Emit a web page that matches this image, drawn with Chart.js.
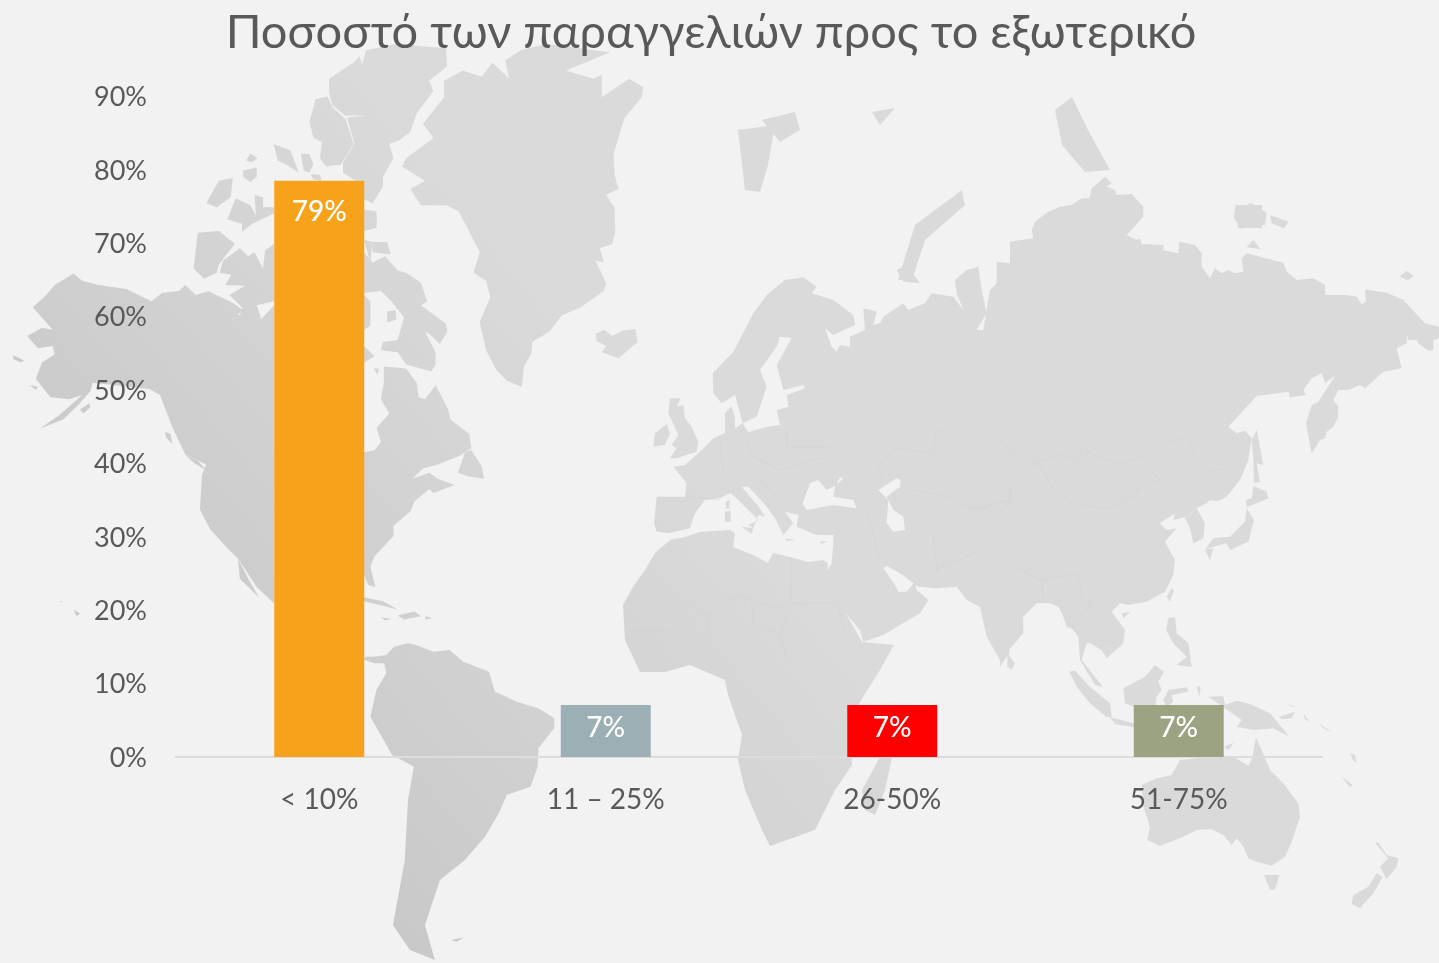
<!DOCTYPE html>
<html><head><meta charset="utf-8">
<style>
html,body{margin:0;padding:0;background:#f2f2f2;width:1439px;height:963px;overflow:hidden}
#map{position:absolute;left:0;top:0}
#wrap{position:absolute;left:0;top:0;width:1439px;height:963px}
</style>
<script src="https://cdn.jsdelivr.net/npm/chart.js@4"></script>
</head><body>
<svg id="map" width="1439" height="963" viewBox="0 0 1439 963">
<defs>
<linearGradient id="g" gradientUnits="userSpaceOnUse" x1="100" y1="600" x2="520" y2="250"><stop offset="0" stop-color="#c8c8c8"/><stop offset="0.35" stop-color="#cfcfcf"/><stop offset="1" stop-color="#dadada"/></linearGradient>
<mask id="m" maskUnits="userSpaceOnUse" x="0" y="0" width="1439" height="963">
<g fill="#fff">
<g transform="translate(0 40) scale(.42085 .40816)">
<path d="M1055 100L1100 75 1145 90 1170 55 1210 95 1200 50 1240 24 1300 10 1450 30 1345 75 1410 95 1430 85 1430 140 1495 95 1528 115 1525 140 1485 190 1478 210 1458 280 1460 330 1470 365 1440 380 1460 410 1462 470 1455 500 1425 510 1435 545 1415 540 1440 595 1435 615 1380 655 1335 675 1305 715 1265 740 1262 770 1245 800 1240 850 1205 835 1180 810 1155 760 1140 690 1165 630 1155 590 1125 570 1140 520 1110 460 1090 420 1060 405 1000 405 975 365 1010 345 955 310 965 290 1030 240 1005 205 1055 140z"/>
<path d="M782 95L840 55 855 40 860 60 870 25 940 10 1060 20 1062 65 1020 100 1030 125 990 180 975 225 950 245 925 255 935 290 910 335 910 360 885 400 865 390 865 345 845 345 815 325 815 300 842 255 825 190 870 185 820 185 790 160 782 130z"/>
<path d="M735 200L750 145 778 138 790 165 822 195 840 255 810 305 775 310 760 290 765 250 745 240z"/>
<path d="M650 255L690 270 710 325 680 305 660 295zM715 278L735 280 745 305 735 325 722 320zM738 328L760 330 765 345 745 342zM595 278L612 290 598 300 585 295zM578 320L610 312 610 335 595 348 578 335z"/>
<path d="M520 345L553 338 548 385 515 410 490 400zM540 440L560 388 595 405 608 430 605 380 625 385 625 410 651 410 651 425 600 450 575 470 575 450zM470 472L520 468 558 500 520 550 515 570 485 585 460 560z"/>
<path d="M522 570L530 540 570 510 590 530 605 520 625 560 630 515 651 500 651 640 610 650 620 680 570 672 575 655 545 625 582 602 535 600 550 575z"/>
<path d="M865 415L895 420 895 460 865 468zM865 490L885 495 880 545zM885 495L920 495 928 525 885 520z"/>
<path d="M865 520L885 545 915 530 945 565 965 570 1000 595 1015 640 1000 650 1060 695 1063 715 1045 745 1020 720 1010 715 1035 765 1035 795 1025 812 965 795 945 765 905 760 910 740 945 735 960 680 930 640 905 615 865 620z"/>
<path d="M920 665L940 662 942 685 920 692zM865 625L880 640 880 700 865 710zM865 750L890 775 865 790zM888 805L900 805 897 820z"/>
<path d="M175 572L195 590 235 600 300 610 360 640 385 620 425 615 440 600 465 625 495 615 555 645 575 660 565 675 610 665 620 685 651 650 651 1380 610 1340 565 1270 545 1250 500 1200 475 1150 480 1065 490 1040 440 1015 410 950 380 870 355 855 220 840 215 860 190 890 150 930 95 952 140 920 195 870 165 880 120 875 85 830 100 790 130 770 125 750 90 755 65 725 100 705 125 710 78 655 110 625 130 600z"/>
<path d="M565 1270L590 1320 615 1365 570 1320z"/>
<path d="M912 800L965 805 990 840 995 875 1010 880 1035 845 1065 905 1070 930 1115 965 1120 1000 1090 1020 1040 1040 1005 1050 980 1075 1020 1060 1040 1075 1080 1090 1030 1110 1020 1100 985 1130 975 1155 935 1190 935 1215 890 1265 880 1290 892 1340 875 1335 865 1310 865 1010 890 1005 905 985 895 950 925 915 905 880 912 840z"/>
<path d="M1105 1010L1120 1005 1145 1045 1150 1075 1115 1070 1088 1060zM865 1365L910 1375 945 1395 905 1385 865 1375zM945 1410L985 1400 1000 1412 960 1420zM1010 1412L1028 1416 1012 1420zM905 1415L930 1418 915 1422zM175 1395L190 1405 182 1412zM143 1373L148 1376 145 1379z"/>
<path d="M30 772L58 785 50 790 32 782zM70 845L90 850 85 857zM190 905L212 890 215 900 198 915zM392 960L405 965 410 990 395 975zM438 1015L470 1030 490 1055 460 1035z"/>
<path d="M1415 720L1435 710 1455 725 1480 712 1510 708 1515 740 1470 780 1430 765 1440 750 1418 738z"/>
</g>
<g transform="translate(60 640) scale(.3954 .3333)">
<path d="M770 50L795 50 825 45 845 20 880 10 900 15 945 35 985 30 1020 65 1085 95 1100 155 1155 185 1210 205 1250 235 1250 265 1210 325 1208 380 1190 440 1130 465 1110 520 1075 590 1024 660 961 720 923 855 948 960 885 930 842 855 872 660 880 480 895 380 840 345 785 230 800 150 825 100 820 70 795 70 770 60z"/>
<path d="M990 900L1022 892 1002 906z"/>
</g>
<path d="M623 605L633 587 645 570 655 553 670 540 685 537 700 532 730 530 735 533 733 547 753 555 768 563 773 553 790 557 808 562 823 560 828 563 827 575 840 603 862 642 894 645 880 670 855 710 850 720 852 765 835 790 815 830 770 846 762 830 745 790 738 760 742 735 728 695 725 680 690 665 665 672 640 672 625 640z"/>
<path d="M880 757L892 757 885 790 875 815 865 810 862 790z"/>
<path d="M738 130L775 125 768 165 760 192 745 190zM762 120L795 112 800 130 780 142zM872 112L895 108 880 125zM1055 110L1072 97 1088 130 1110 170 1085 172 1062 145zM898 280L915 225 962 190 965 205 925 240 912 280zM1235 205L1262 205 1262 228 1238 228z"/>
<g transform="translate(620 270) scale(.33333)">
<path d="M305 400L280 370 278 310 340 245 400 130 440 75 495 30 550 22 590 50 575 70 640 90 700 135 705 165 640 195 615 175 635 230 650 245 660 225 690 230 690 200 735 180 730 115 770 125 760 165 780 160 790 140 850 100 865 120 915 100 935 70 1000 80 1030 120 1010 70 1005 30 1040 0 1075 -10 1085 60 1100 130 1070 180 1090 180 1110 60 1200 -30 1210 1090 1175 1130 1140 1170 1100 1100 1080 1010 1040 990 1010 950 950 955 895 950 840 910 800 888 790 895 825 945 835 965 860 965 885 935 890 960 925 990 900 1030 840 1065 790 1095 730 1115 720 1080 660 1010 615 915 635 880 640 820 640 795 590 795 530 770 535 735 495 725 520 760 490 795 465 745 440 710 385 650 365 650 420 715 435 740 415 735 400 775 385 765 415 750 345 680 330 670 300 685 255 690 225 730 210 775 145 790 110 785 102 760 110 680 195 680 200 640 160 590 195 585 235 550 280 505 315 490 315 430 335 408 345 445 345 475 368 460 345 375z"/>
<path d="M318 695L330 690 328 715 318 715zM315 725L332 722 332 755 315 755zM365 770L400 775 395 792zM495 805L525 810 500 812zM600 815L622 812 605 822z"/>
<path d="M150 385L182 385 170 410 190 405 195 445 215 470 235 515 230 545 170 565 150 565 170 535 155 525 175 495 145 430zM100 530L105 490 140 462 150 490 135 525z"/>
<path d="M830 0L860 -15 900 40 850 35z"/>
</g>
<g transform="translate(1000 170) scale(.33333)">
<path d="M-10 275L30 280 30 215 100 205 95 180 105 155 145 125 180 110 215 105 245 85 268 85 275 55 315 20 335 40 320 50 345 60 350 75 395 72 430 110 430 140 380 195 410 210 420 205 425 222 490 225 490 240 535 250 538 215 585 225 605 250 605 290 630 325 645 295 665 310 685 300 705 310 730 305 725 265 740 250 850 278 860 305 890 330 940 325 975 345 975 375 1040 375 1070 380 1085 403 1098 395 1095 358 1160 368 1210 390 1275 460 1317 470 1317 505 1300 510 1300 540 1285 542 1255 520 1250 510 1225 510 1220 495 1220 520 1190 535 1205 595 1150 605 1095 655 1080 645 1045 660 1015 660 1000 690 1015 710 1013 745 1000 770 980 785 975 805 960 810 935 850 918 760 935 705 955 695 1020 595 1015 610 975 640 965 610 935 625 910 660 918 675 870 682 865 665 770 678 685 770 710 790 735 782 755 805 745 870 720 930 680 980 655 993 630 990 620 1000 590 1015 560 1040 520 1050 525 1030 480 1060 500 1080 530 1075 495 1115 525 1170 520 1215 495 1265 440 1295 385 1305 360 1300 335 1325 375 1380 370 1420 320 1465 305 1440 270 1420 260 1420 245 1470 309 1551 285 1545 240 1470 235 1400 215 1375 200 1370 190 1340 175 1310 150 1300 110 1300 60 1350 30 1375 28 1450 0 1490 -10 1100z"/>
<path d="M555 1045L590 1015 615 1060 610 1105 580 1120 570 1075z"/>
<path d="M770 780L790 885 770 880 780 935 762 940 760 870 755 810zM760 948L800 965 805 985 770 1000 740 1012 738 990 755 985zM740 1015L762 1050 745 1115 690 1140 680 1120 640 1130 615 1140 640 1105 690 1100 735 1055zM615 1140L640 1135 630 1170z"/>
<path d="M515 1255L522 1260 510 1295 500 1280zM365 1330L392 1325 370 1345zM505 1345L525 1340 530 1390 565 1420 575 1490 530 1485 560 1460 520 1420 498 1380zM22 1450L45 1480 35 1500 22 1490z"/>
<path d="M705 115L755 100 800 128 795 165 745 165 725 178 702 145zM810 135L865 155 852 175 815 160zM740 232L760 210 782 238zM1198 320L1220 303 1242 318 1225 330z"/>
</g>
<g transform="translate(1040 600) scale(.33333)">
<path d="M88 215L105 212 150 260 210 310 215 350 200 352 150 310 110 260zM210 352L282 370 282 382 225 372zM250 265L315 230 345 195 372 215 355 245 365 270 350 290 345 330 282 320 255 310zM370 300L385 270 440 262 445 275 395 285 400 305 380 320z"/>
<path d="M505 290L550 288 555 315 590 302 630 312 690 340 715 370 748 410 700 385 640 390 590 380 605 360 570 335zM470 258L482 262 478 290zM552 440L582 428 565 450zM718 350L765 335 755 355 725 358zM745 312L772 325 750 318zM790 340L808 365 795 358zM835 370L875 395 850 385zM932 460L945 465 950 488 938 480zM905 530L938 555 930 562z"/>
<path d="M420 480L470 475 500 470 552 470 580 470 625 497 635 480 648 412 665 450 690 510 730 550 775 610 780 650 755 725 735 770 695 797 650 785 625 775 610 740 590 715 575 735 550 705 515 688 470 690 430 710 360 738 322 720 330 680 310 620 305 555 350 535 395 525z"/>
<path d="M672 825L718 825 705 868 690 870zM1005 728L1015 728 1040 765 1075 775 1070 800 1040 838 1020 800 1045 775zM1010 820L1028 830 1000 880 960 925 935 912 940 885 985 860z"/>
</g>
</g>
<g fill="#000" transform="translate(620 270) scale(.33333)">
<path d="M368 460L410 440 440 350 420 300 470 230 480 200 515 205 470 285 490 360 550 345 555 355 500 375 505 410 470 420 480 465 440 470 385 487z"/>
<path d="M775 660L830 625 842 630 840 650 800 680 820 720 850 740 855 780 820 785 800 760 805 690z"/>
<path d="M548 700L570 640 595 630 620 660 650 645 660 622 670 625 645 650 640 680 700 690 710 715 640 705 560 720z"/>
</g>
</mask>
</defs>
<rect x="0" y="0" width="1439" height="963" fill="url(#g)" mask="url(#m)"/>
<g fill="none" stroke="#cccccc" stroke-width="1">
<g transform="translate(620 270) scale(.33333)">
<path d="M515 860V1000M515 1000H650M140 955L260 1035 355 975 500 1020M260 1035V1130M395 985L400 1070 480 1090M115 920L20 1005M150 1080H30M510 1020L480 1090 500 1170M650 1000L680 1090M360 480L400 560 480 600 620 560M500 480V530L620 530 690 570M1040 460L945 490 940 550 830 535 770 590 790 630M880 660L990 680 1060 720 1170 690M740 720L760 790 780 880M940 800L950 900M1060 800L950 900 1080 840M400 600L480 700M300 500L310 610M200 680L300 690"/>
</g>
<g transform="translate(1000 170) scale(.33333)">
<path d="M0 810L30 845 110 880 170 855 235 870 250 830 290 860 360 880 430 860 460 875 510 815 560 800 590 870 630 905 675 895M115 880L155 950 215 1000 320 1015 405 980 410 960 480 930 450 900M115 880L60 920 30 960 30 1000 0 1020M30 1180L120 1230 230 1210 250 1290 280 1300M125 1230L130 1290M280 1300L240 1340 300 1410 350 1420"/>
</g>
</g>
</svg>
<div id="wrap"><canvas id="c" width="1439" height="963"></canvas></div>
<script>
const categories = ["< 10%", "11 – 25%", "26-50%", "51-75%"];
const values = [78.5, 7.1, 7.1, 7.1];
const barColors = ["#f7a21b", "#9bafb5", "#ff0000", "#9ca383"];
const titleText = "Ποσοστό των παραγγελιών προς το εξωτερικό";

const valueLabels = {
  id: "valueLabels",
  afterDatasetsDraw(chart) {
    const ctx = chart.ctx;
    ctx.save();
    ctx.fillStyle = "#ffffff";
    ctx.font = "500 28px Lato";
    ctx.textAlign = "center";
    ctx.textBaseline = "middle";
    chart.getDatasetMeta(0).data.forEach((bar, i) => {
      ctx.fillText(Math.round(values[i]) + "%", bar.x, bar.y + (values[i] > 50 ? 31 : 23));
    });
    ctx.restore();
  }
};

new Chart(document.getElementById("c"), {
  type: "bar",
  plugins: [valueLabels],
  data: { labels: categories, datasets: [{ data: values, backgroundColor: barColors, barPercentage: 1, categoryPercentage: 0.314 }] },
  options: {
    responsive: false, animation: false,
    layout: { padding: { left: 0, right: 17, top: 0, bottom: 0 } },
    plugins: {
      legend: { display: false }, tooltip: { enabled: false },
      title: { display: true, text: titleText, color: "#595959", font: { family: "Lato", size: 47, weight: 400, lineHeight: 1.2 }, padding: { top: 5, bottom: 35 } }
    },
    scales: {
      x: {
        grid: { display: false, drawTicks: false },
        border: { display: true, color: "#dcdcdc", width: 2 },
        ticks: { color: "#595959", font: { family: "Lato", size: 28 }, padding: 26, maxRotation: 0 },
        afterFit(s) { s.height = 206; }
      },
      y: {
        min: 0, max: 90,
        grid: { display: false, drawTicks: false },
        border: { display: false },
        ticks: { stepSize: 10, color: "#595959", font: { family: "Lato", size: 27 }, padding: 29, labelOffset: 1, callback: v => v + "%" },
        afterFit(s) { s.width = 176; }
      },
      r: {
        type: "linear", position: "right", display: true,
        grid: { display: false, drawTicks: false }, border: { display: false },
        ticks: { display: false },
        afterFit(s) { s.width = 100; }
      }
    }
  }
});
</script>
</body></html>
